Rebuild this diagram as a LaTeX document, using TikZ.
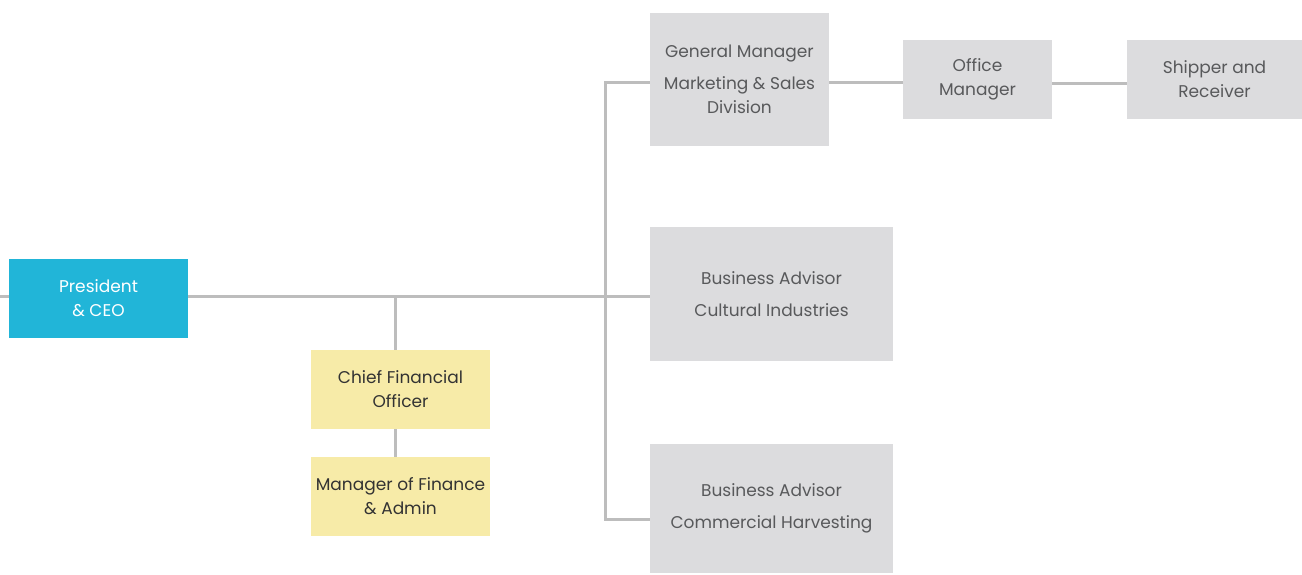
\documentclass[tikz,border=0pt]{standalone}
\usepackage{fontspec}
\setmainfont{Poppins}
\usepackage{tikz}
\usetikzlibrary{positioning}

\definecolor{ceoblue}{HTML}{21B5D8}
\definecolor{finyellow}{HTML}{F7EBA8}
\definecolor{boxgray}{HTML}{DCDCDE}
\definecolor{linegray}{HTML}{BDBDBD}
\definecolor{txtgray}{HTML}{58595B}

\tikzset{
    unit/.style={inner sep=0pt, align=center, font=\fontsize{17}{24}\selectfont},
    ceobox/.style={unit, fill=ceoblue, text=white, minimum width=179pt, minimum height=79pt},
    finbox/.style={unit, fill=finyellow, text=black!80, minimum width=179pt, minimum height=79pt},
    staffbox/.style={unit, fill=boxgray, text=txtgray},
    link/.style={draw=linegray, line width=3pt}
}

\begin{document}
\begin{tikzpicture}[x=1pt, y=-1pt]
        \useasboundingbox (0,0) rectangle (1302,574);
        % boxes
        \node[ceobox] (ceo) at (98.5,298.5) {President\\ \& CEO};
        \node[finbox] (cfo) at (400.5,389.5) {Chief Financial\\ Officer};
        \node[finbox] (mfa) at (400.5,496.5) {Manager of Finance\\ \& Admin};
        \node[staffbox, minimum width=179pt, minimum height=133pt] (gm) at (739.5,79.5)
            {General Manager\\[8pt] Marketing \& Sales\\ Division};
        \node[staffbox, minimum width=149pt, minimum height=79pt] (om) at (977.5,79.5) {Office\\ Manager};
        \node[staffbox, minimum width=175pt, minimum height=79pt] (sr) at (1214.5,79.5) {Shipper and\\ Receiver};
        \node[staffbox, minimum width=243pt, minimum height=134pt] (bac) at (771.5,294)
            {Business Advisor\\[8pt] Cultural Industries};
        \node[staffbox, minimum width=243pt, minimum height=129pt] (bach) at (771.5,508.5)
            {Business Advisor\\[8pt] Commercial Harvesting};
        % connectors
        \coordinate (lft) at (0,296.5);
        \coordinate (jt) at (605,296.5);
        \draw[link] (lft) -- (ceo.west |- lft);
        \draw[link] (ceo.east |- jt) -- (jt) -- (bac.west |- jt);
        \draw[link] ([xshift=-5.5pt]cfo.north) -- ([xshift=-5.5pt]cfo.north |- jt);
        \draw[link] ([xshift=-5.5pt]cfo.south) -- ([xshift=-5.5pt]mfa.north);
        \draw[link] ([yshift=-3pt]gm.west) -| (jt) |- ([yshift=-11pt]bach.west);
        \draw[link] ([yshift=-3pt]gm.east) -- ([yshift=-3pt]om.west);
        \draw[link] ([yshift=-4pt]om.east) -- ([yshift=-4pt]sr.west);
    \end{tikzpicture}
\end{document}
